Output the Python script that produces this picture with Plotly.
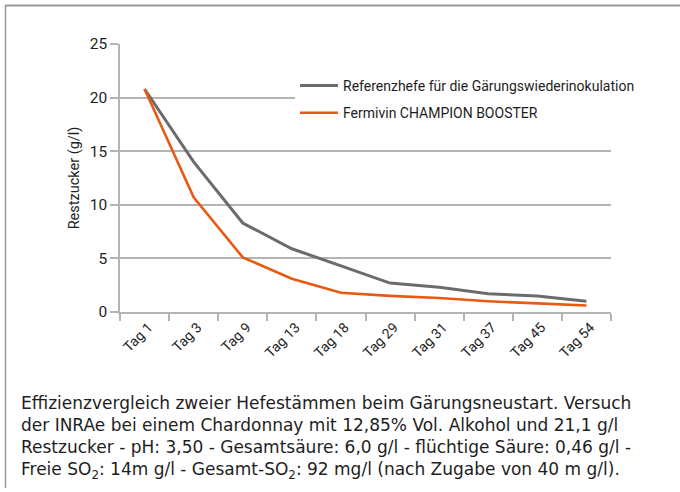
import plotly.graph_objects as go

categories = ["Tag 1", "Tag 3", "Tag 9", "Tag 13", "Tag 18", "Tag 29", "Tag 31", "Tag 37", "Tag 45", "Tag 54"]
referenz = [20.8, 14.0, 8.3, 5.9, 4.3, 2.7, 2.3, 1.7, 1.5, 1.0]
champion = [20.8, 10.7, 5.1, 3.1, 1.8, 1.5, 1.3, 1.0, 0.8, 0.6]
series_names = ["Referenzhefe für die Gärungswiederinokulation", "Fermivin CHAMPION BOOSTER"]
y_title = "Restzucker (g/l)"
caption_lines = [
    "Effizienzvergleich zweier Hefestämmen beim Gärungsneustart. Versuch",
    "der INRAe bei einem Chardonnay mit 12,85% Vol. Alkohol und 21,1 g/l",
    "Restzucker - pH: 3,50 - Gesamtsäure: 6,0 g/l - flüchtige Säure: 0,46 g/l -",
    "Freie SO<sub>2</sub>: 14m g/l - Gesamt-SO<sub>2</sub>: 92 mg/l (nach Zugabe von 40 m g/l).",
]

W, H = 680, 492
ML, MR, MT, MB = 120, 69, 44, 180
PW, PH = W - ML - MR, H - MT - MB

def px_x(x):
    return (x - ML) / PW

def px_y(y):
    return (H - MB - y) / PH

NARROW = "Roboto, Liberation Sans, sans-serif"
CAPFONT = "DejaVu Sans, Verdana, sans-serif"
TXT = "#1e1e1e"
GRID = "#b4b4b4"

fig = go.Figure()
fig.add_trace(go.Scatter(x=categories, y=referenz, mode="lines", name=series_names[0],
                         line=dict(color="#6b6b6b", width=3), legendgroup="a"))
fig.add_trace(go.Scatter(x=categories, y=champion, mode="lines", name=series_names[1],
                         line=dict(color="#e85a12", width=2.6), legendgroup="b"))

annotations = []
cap_y = [403, 425, 447, 470]
for line, yy in zip(caption_lines, cap_y):
    annotations.append(dict(text=line, xref="paper", yref="paper", x=px_x(19), y=px_y(yy),
                            xanchor="left", yanchor="middle", showarrow=False,
                            font=dict(family=CAPFONT, size=17, color=TXT)))

shapes = [
    dict(type="line", xref="paper", yref="paper", x0=px_x(5), x1=px_x(680), y0=px_y(5.5), y1=px_y(5.5),
         line=dict(color="#9a9a9a", width=2)),
    dict(type="line", xref="paper", yref="paper", x0=px_x(5.5), x1=px_x(5.5), y0=px_y(5), y1=px_y(488),
         line=dict(color="#9a9a9a", width=1.5)),
]

fig.update_layout(
    width=W, height=H,
    margin=dict(l=ML, r=MR, t=MT, b=MB, autoexpand=False),
    paper_bgcolor="white", plot_bgcolor="white",
    font=dict(family=NARROW, color=TXT),
    showlegend=True,
    legend=dict(x=px_x(295), y=px_y(70), xanchor="left", yanchor="top",
                bgcolor="white", font=dict(family=NARROW, size=14, color=TXT),
                traceorder="grouped", tracegroupgap=6, itemwidth=38),
    annotations=annotations,
    shapes=shapes,
)
fig.update_xaxes(type="category", range=[-0.5, len(categories) - 0.5], tickangle=-45, ticks="outside",
                 tickson="boundaries", ticklen=7, tickcolor=GRID, tickwidth=1.5, showline=True,
                 linecolor=GRID, linewidth=1.5, showgrid=False, ticklabelshift=4,
                 tickfont=dict(family=NARROW, size=14, color=TXT))
fig.update_yaxes(range=[0, 25], dtick=5, ticks="outside", ticklen=8, tickcolor=GRID, tickwidth=1.5,
                 showline=True, linecolor=GRID, linewidth=1.5, showgrid=True, gridcolor=GRID, gridwidth=1.5,
                 zeroline=False, tickfont=dict(family=NARROW, size=15.5, color=TXT),
                 title=dict(text=y_title, font=dict(family=NARROW, size=14.5, color=TXT), standoff=7))

fig.write_html("out.html", config={"displayModeBar": False},
               post_script="document.body.style.margin='0px';")
